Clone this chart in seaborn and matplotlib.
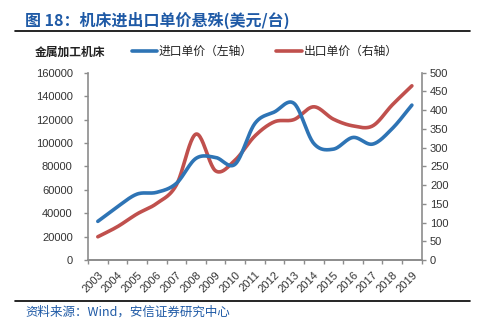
import numpy as np
import pandas as pd
import matplotlib
matplotlib.use("Agg")
import matplotlib.pyplot as plt
import seaborn as sns

years = [str(y) for y in range(2003, 2020)]
import_price = [33000, 45500, 56300, 57800, 65400, 86800, 87600, 81900, 116600,
                126500, 133700, 99600, 94700, 104700, 99000, 112300, 132300]
export_price = [62, 89, 123, 151, 200, 336, 238, 267, 331, 369, 375, 409, 376,
                358, 358, 414, 465]

BLUE = "#2E74B5"
RED = "#C0504D"
GRAY = "#8C8C8C"

sns.set_theme(style="white")
plt.rcParams['font.family'] = ['Liberation Sans', 'Noto Sans CJK SC', 'DejaVu Sans']

def smooth(x, y, n=24):
    x = np.asarray(x, float); y = np.asarray(y, float)
    px = np.concatenate([[2*x[0]-x[1]], x, [2*x[-1]-x[-2]]])
    py = np.concatenate([[2*y[0]-y[1]], y, [2*y[-1]-y[-2]]])
    xs, ys = [], []
    t = np.linspace(0, 1, n, endpoint=False)
    for i in range(1, len(px)-2):
        for arr, out in ((px, xs), (py, ys)):
            p0, p1, p2, p3 = arr[i-1], arr[i], arr[i+1], arr[i+2]
            out.extend(0.5*((2*p1) + (-p0+p2)*t + (2*p0-5*p1+4*p2-p3)*t**2 + (-p0+3*p1-3*p2+p3)*t**3))
    xs.append(x[-1]); ys.append(y[-1])
    return np.array(xs), np.array(ys)

fig = plt.figure(figsize=(4.83, 3.25), dpi=100)
ax = fig.add_axes([88/483, 1-260/325, (421.7-88)/483, (260-72.7)/325])
ax2 = ax.twinx()

idx = np.arange(len(years))
bx, by = smooth(idx, import_price)
rx, ry = smooth(idx, export_price)
sns.lineplot(x=bx, y=by, ax=ax, color=BLUE, lw=2.6, sort=False, estimator=None)
sns.lineplot(x=rx, y=ry, ax=ax2, color=RED, lw=2.6, sort=False, estimator=None)
ax2.set_zorder(ax.get_zorder()-1)
ax.patch.set_visible(False)

ax.set_xlim(-0.5, len(years)-0.5)
ax.set_ylim(0, 160000)
ax2.set_ylim(0, 500)
ax.set_yticks(np.arange(0, 160001, 20000))
ax.set_yticklabels([str(v) for v in range(0, 160001, 20000)], fontsize=8, color="#333333")
ax2.set_yticks(np.arange(0, 501, 50))
ax2.set_yticklabels([str(v) for v in range(0, 501, 50)], fontsize=8, color="#333333")

ax.set_xticks(np.arange(-0.5, len(years), 1))
ax.set_xticklabels([])
ax.set_xticks(idx, minor=True)
ax.set_xticklabels(years, minor=True, rotation=45, ha="right", rotation_mode="anchor",
                   fontsize=8, color="#333333")
ax.tick_params(axis="x", which="major", direction="out", length=3, color=GRAY, width=1, bottom=True)
ax.tick_params(axis="x", which="minor", length=0, pad=7, bottom=True)
ax.tick_params(axis="y", direction="out", length=3, color=GRAY, width=1, left=True, pad=8)
ax2.tick_params(axis="y", direction="out", length=3, color=GRAY, width=1, right=True, pad=3)

for a in (ax, ax2):
    a.grid(False)
    a.set_xlabel(""); a.set_ylabel("")
    for s in a.spines.values():
        s.set_color(GRAY); s.set_linewidth(1.2)
    a.spines["top"].set_visible(False)
ax.spines["right"].set_visible(False)
ax2.spines["left"].set_visible(False)

cjk = ['Noto Sans CJK SC', 'DejaVu Sans']
fig.text(25/483, 1-20/325, "图 18：机床进出口单价悬殊(美元/台)", family=cjk, fontsize=11.5,
         fontweight="bold", color="#1F5AA6", va="center", ha="left")
fig.add_artist(plt.Line2D([15/483, 470/483], [1-30.5/325, 1-30.5/325], color="black", lw=1.2))
fig.text(35/483, 1-52/325, "金属加工机床", family=cjk, fontsize=8.5, fontweight="bold",
         color="#222222", va="center", ha="left")
fig.add_artist(plt.Line2D([132/483, 157/483], [1-51/325, 1-51/325], color=BLUE, lw=2.6))
fig.text(159/483, 1-51/325, "进口单价（左轴）", family=cjk, fontsize=8.5, color="#222222",
         va="center", ha="left")
fig.add_artist(plt.Line2D([276/483, 302/483], [1-51/325, 1-51/325], color=RED, lw=2.6))
fig.text(304/483, 1-51/325, "出口单价（右轴）", family=cjk, fontsize=8.5, color="#222222",
         va="center", ha="left")
fig.add_artist(plt.Line2D([15/483, 470/483], [1-301/325, 1-301/325], color="black", lw=1.2))
fig.text(25/483, 1-312/325, "资料来源：Wind，安信证券研究中心", family=cjk, fontsize=9,
         style="italic", color="#1F5AA6", va="center", ha="left")

fig.savefig("out.png", dpi=100)
